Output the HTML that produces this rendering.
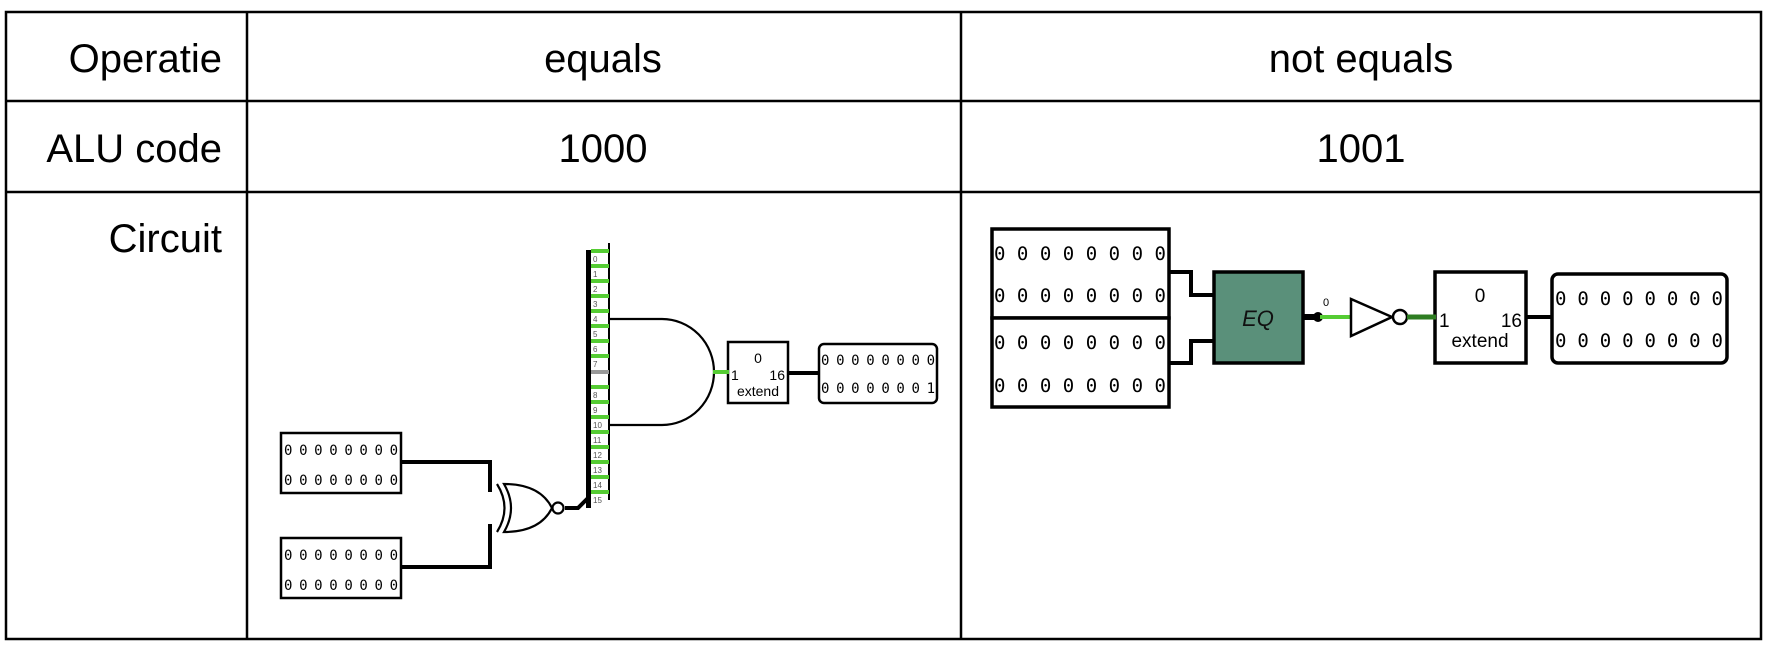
<!DOCTYPE html>
<html><head><meta charset="utf-8"><style>
html,body{margin:0;padding:0;background:#fff;}
svg{display:block;}
</style></head><body>
<svg width="1768" height="648" xmlns="http://www.w3.org/2000/svg" font-family="Liberation Sans, Arial, sans-serif">
<rect width="1768" height="648" fill="#fff"/>
<!-- table -->
<g stroke="#000" stroke-width="2.5" fill="none">
<rect x="6" y="12" width="1755" height="627"/>
<line x1="247" y1="12" x2="247" y2="639"/>
<line x1="961" y1="12" x2="961" y2="639"/>
<line x1="6" y1="101" x2="1761" y2="101"/>
<line x1="6" y1="192" x2="1761" y2="192"/>
</g>
<g font-size="40" fill="#000">
<text x="222" y="72" text-anchor="end">Operatie</text>
<text x="222" y="162" text-anchor="end">ALU code</text>
<text x="222" y="252" text-anchor="end">Circuit</text>
<text x="603" y="72" text-anchor="middle">equals</text>
<text x="1361" y="72" text-anchor="middle">not equals</text>
<text x="603" y="162" text-anchor="middle">1000</text>
<text x="1361" y="162" text-anchor="middle">1001</text>
</g>

<!-- LEFT circuit -->
<!-- input displays -->
<g stroke="#000" stroke-width="2.5" fill="#fff">
<rect x="281" y="433" width="120" height="60"/>
<rect x="281" y="538" width="120" height="60"/>
<rect x="819" y="344" width="118" height="59" rx="5"/>
<rect x="728" y="342" width="60" height="61"/>
</g>
<g font-family="DejaVu Sans Mono, Liberation Mono, monospace" font-size="14" fill="#000">
<text x="284" y="455" textLength="114">00000000</text>
<text x="284" y="485" textLength="114">00000000</text>
<text x="284" y="560" textLength="114">00000000</text>
<text x="284" y="590" textLength="114">00000000</text>
<text x="821" y="365" textLength="114">00000000</text>
<text x="821" y="393" textLength="114">00000001</text>
</g>
<g font-size="14" fill="#000">
<text x="758" y="363" text-anchor="middle">0</text>
<text x="731" y="380">1</text>
<text x="785" y="380" text-anchor="end">16</text>
<text x="758" y="396" text-anchor="middle">extend</text>
</g>
<!-- wires to XNOR -->
<g stroke="#000" stroke-width="4" fill="none">
<polyline points="401,462 490,462 490,492"/>
<polyline points="401,567 490,567 490,524"/>
<line x1="788" y1="373" x2="819" y2="373"/>
<polyline points="565,508 578,508 588,498"/>
</g>
<!-- XNOR gate -->
<g stroke="#000" stroke-width="2.2" fill="#fff">
<path d="M497,484 Q512,508 497,532" fill="none"/>
<path d="M504,484 Q540,484 552,508 Q540,532 504,532 Q518,508 504,484 Z"/>
<circle cx="558" cy="508" r="5.5"/>
</g>
<!-- splitter -->
<rect x="586" y="250" width="5" height="258" fill="#000"/>
<line x1="609" y1="243" x2="609" y2="500" stroke="#000" stroke-width="2"/>
<g stroke="#55cc33" stroke-width="4">
<line x1="591" y1="251" x2="609" y2="251"/>
<line x1="591" y1="266" x2="609" y2="266"/>
<line x1="591" y1="281" x2="609" y2="281"/>
<line x1="591" y1="296" x2="609" y2="296"/>
<line x1="591" y1="311" x2="609" y2="311"/>
<line x1="591" y1="326" x2="609" y2="326"/>
<line x1="591" y1="341" x2="609" y2="341"/>
<line x1="591" y1="356" x2="609" y2="356"/>
<line x1="591" y1="387" x2="609" y2="387"/>
<line x1="591" y1="402" x2="609" y2="402"/>
<line x1="591" y1="417" x2="609" y2="417"/>
<line x1="591" y1="432" x2="609" y2="432"/>
<line x1="591" y1="447" x2="609" y2="447"/>
<line x1="591" y1="462" x2="609" y2="462"/>
<line x1="591" y1="477" x2="609" y2="477"/>
<line x1="591" y1="492" x2="609" y2="492"/>
</g>
<line x1="591" y1="372" x2="609" y2="372" stroke="#999" stroke-width="4"/>
<g font-size="8" fill="#555">
<text x="593" y="262">0</text><text x="593" y="277">1</text><text x="593" y="292">2</text><text x="593" y="307">3</text>
<text x="593" y="322">4</text><text x="593" y="337">5</text><text x="593" y="352">6</text><text x="593" y="367">7</text>
<text x="593" y="398">8</text><text x="593" y="413">9</text><text x="593" y="428">10</text><text x="593" y="443">11</text>
<text x="593" y="458">12</text><text x="593" y="473">13</text><text x="593" y="488">14</text><text x="593" y="503">15</text>
</g>
<!-- AND gate -->
<path d="M610,319 L662,319 A52,53 0 0 1 662,425 L610,425" fill="none" stroke="#000" stroke-width="2.2"/>
<line x1="713" y1="372" x2="729" y2="372" stroke="#55cc33" stroke-width="4"/>

<!-- RIGHT circuit -->
<g stroke="#000" stroke-width="4" fill="none">
<polyline points="1169,272 1191,272 1191,295 1214,295"/>
<polyline points="1169,363 1191,363 1191,341 1214,341"/>
<line x1="1526" y1="317" x2="1552" y2="317"/>
</g>
<g stroke="#000" stroke-width="3.5" fill="#fff">
<rect x="992" y="229" width="177" height="89"/>
<rect x="992" y="318" width="177" height="89"/>
<rect x="1435" y="272" width="91" height="91"/>
<rect x="1552" y="274" width="175" height="89" rx="6"/>
</g>
<rect x="1214" y="272" width="89" height="91" fill="#5a907a" stroke="#000" stroke-width="3.5"/>
<text x="1258" y="326" font-size="22" font-style="italic" text-anchor="middle" fill="#111">EQ</text>
<g font-family="DejaVu Sans Mono, Liberation Mono, monospace" font-size="19" fill="#000">
<text x="994" y="260" textLength="172">00000000</text>
<text x="994" y="302" textLength="172">00000000</text>
<text x="994" y="349" textLength="172">00000000</text>
<text x="994" y="392" textLength="172">00000000</text>
<text x="1555" y="305" textLength="168">00000000</text>
<text x="1555" y="347" textLength="168">00000000</text>
</g>
<g font-size="19" fill="#000">
<text x="1480" y="302" text-anchor="middle">0</text>
<text x="1439" y="327">1</text>
<text x="1522" y="327" text-anchor="end">16</text>
<text x="1480" y="347" text-anchor="middle">extend</text>
</g>
<text x="1323" y="306" font-size="11" fill="#000">0</text>
<line x1="1303" y1="317" x2="1318" y2="317" stroke="#000" stroke-width="6"/>
<circle cx="1318" cy="317" r="5" fill="#000"/>
<line x1="1320" y1="317" x2="1351" y2="317" stroke="#55cc33" stroke-width="4"/>
<path d="M1351,299 L1392,317 L1351,336 Z" fill="#fff" stroke="#000" stroke-width="2.5"/>
<circle cx="1400" cy="317" r="7" fill="#fff" stroke="#000" stroke-width="2.5"/>
<line x1="1407" y1="317" x2="1436" y2="317" stroke="#2e7d22" stroke-width="5"/>
</svg>
</body></html>
